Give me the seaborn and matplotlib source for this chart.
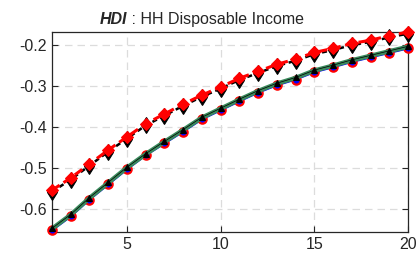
import numpy as np
import pandas as pd
import matplotlib
matplotlib.use("Agg")
import matplotlib.pyplot as plt
import seaborn as sns

# horizon
periods = list(range(1, 21))

# lower group of responses
resp_blue = [-0.652, -0.618, -0.577, -0.540, -0.503, -0.469, -0.440, -0.411, -0.381, -0.359,
             -0.337, -0.316, -0.298, -0.284, -0.266, -0.254, -0.241, -0.230, -0.219, -0.208]
resp_green = [-0.648, -0.614, -0.573, -0.536, -0.499, -0.466, -0.436, -0.407, -0.377, -0.355,
              -0.333, -0.312, -0.294, -0.280, -0.262, -0.250, -0.237, -0.226, -0.215, -0.204]
resp_black = [-0.647, -0.613, -0.572, -0.535, -0.498, -0.465, -0.435, -0.406, -0.376, -0.354,
              -0.332, -0.311, -0.293, -0.279, -0.261, -0.249, -0.236, -0.225, -0.214, -0.203]

# upper group of responses
resp_red_dash = [-0.554, -0.524, -0.490, -0.456, -0.424, -0.392, -0.368, -0.344, -0.322, -0.302,
                 -0.281, -0.264, -0.247, -0.234, -0.218, -0.208, -0.196, -0.188, -0.177, -0.168]
resp_black_dash = [-0.558, -0.528, -0.494, -0.460, -0.428, -0.396, -0.372, -0.348, -0.326, -0.306,
                   -0.285, -0.268, -0.251, -0.238, -0.222, -0.212, -0.200, -0.192, -0.181, -0.172]

yticks = [-0.6, -0.5, -0.4, -0.3, -0.2]
xticks = [5, 10, 15, 20]

sns.set_style("ticks")
plt.rcParams["font.family"] = ["Liberation Sans", "DejaVu Sans"]

fig = plt.figure(figsize=(4.16, 2.61), dpi=100)
ax = fig.add_axes([52 / 416, 1 - 232 / 261, 356 / 416, 200 / 261])

sns.lineplot(x=periods, y=resp_blue, ax=ax, color="blue", lw=1.5, marker="o",
             markersize=6, markerfacecolor="blue", markeredgecolor="red", markeredgewidth=1.6,
             clip_on=False, zorder=3)
sns.lineplot(x=periods, y=resp_green, ax=ax, color="#3a8a5c", lw=3.2, clip_on=False, zorder=4)
sns.lineplot(x=periods, y=resp_black, ax=ax, color="black", lw=0.5, marker="^",
             markersize=5, markerfacecolor="black", markeredgecolor="black",
             clip_on=False, zorder=5)
sns.lineplot(x=periods, y=resp_black_dash, ax=ax, color="black", lw=1.8, linestyle=(0, (2, 1.5)),
             marker="d", markersize=8.5, markerfacecolor="black", markeredgecolor="black",
             clip_on=False, zorder=6)
sns.lineplot(x=periods, y=resp_red_dash, ax=ax, color="red", lw=2.2, linestyle=(0, (3, 1.5)),
             marker="D", markersize=6, markerfacecolor="red", markeredgecolor="red",
             clip_on=False, zorder=7)

ax.set_xlim(1, 20)
ax.set_ylim(-0.656, -0.168)
ax.set_xticks(xticks)
ax.set_yticks(yticks)
ax.set_yticklabels([f"{v:.1f}" for v in yticks])
ax.grid(True, color="#dcdcdc", linestyle=(0, (6, 4)), lw=0.9)
ax.set_axisbelow(True)
ax.tick_params(direction="in", length=4, labelsize=11.5, colors="#262626",
               top=False, right=True, labelright=False)
for s in ax.spines.values():
    s.set_visible(True)
    s.set_color("#262626")
    s.set_linewidth(0.9)

# title: bold italic variable code followed by its description
fig.text(127 / 416, 0.925, "HDI", fontsize=11.5, fontweight="bold", fontstyle="italic",
         ha="right", va="center")
fig.text(127 / 416, 0.925, " : HH Disposable Income", fontsize=11.5, ha="left", va="center")

fig.savefig("out.png", dpi=100)
